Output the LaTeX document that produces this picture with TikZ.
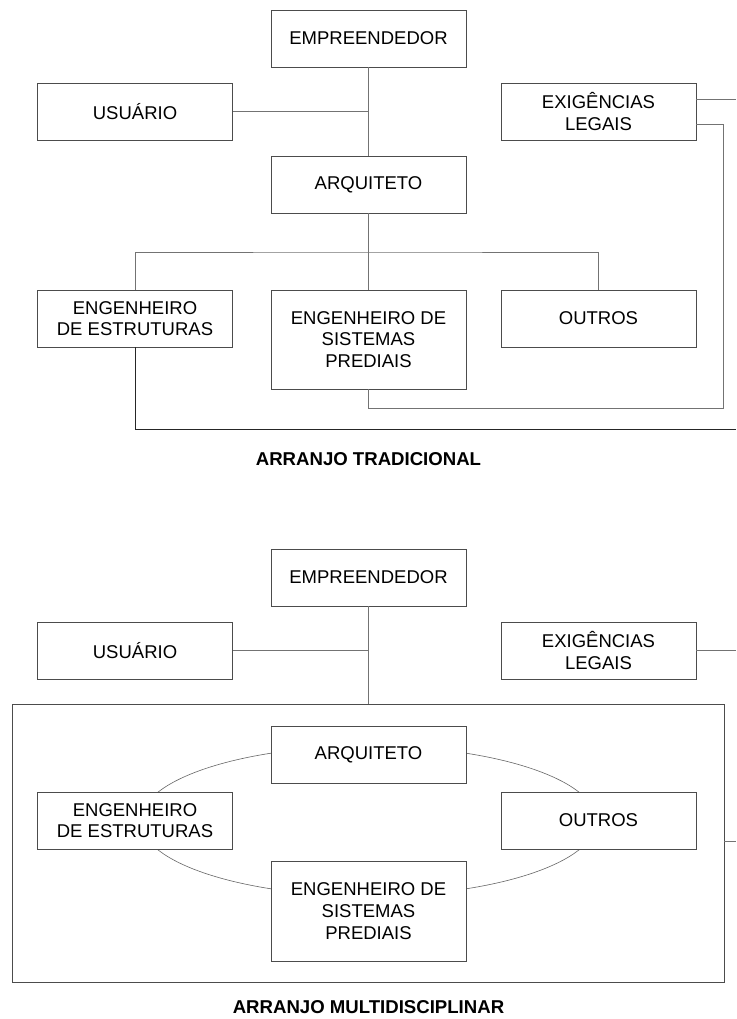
\documentclass[tikz,border=0pt]{standalone}
\usepackage{fontspec}
\setmainfont{Liberation Sans}
\tikzset{
  caixa/.style={draw=black!70, fill=white, line width=0.9pt, minimum width=195pt,
    minimum height=57pt, inner sep=0pt, align=center,
    font=\fontsize{18.5}{21.7}\selectfont},
  liga/.style={draw=black!55, line width=0.9pt},
  titulo/.style={font=\fontsize{18.6}{22}\selectfont\bfseries}
}
\begin{document}
\begin{tikzpicture}[x=1pt, y=-1pt]
    \useasboundingbox[fill=white] (0,0) rectangle (736,1019);

    % Arranjo tradicional
    \node[caixa] (emp) at (368.5,38.5) {EMPREENDEDOR};
    \node[caixa] (usu) at (135,111.5) {USUÁRIO};
    \node[caixa] (exig) at (598.5,111.5) {EXIGÊNCIAS\\LEGAIS};
    \node[caixa] (arq) at (368.5,184.5) {ARQUITETO};
    \node[caixa] (eest) at (135,318.5) {ENGENHEIRO\\DE ESTRUTURAS};
    \node[caixa, minimum height=99pt] (sist) at (368.5,339.5) {ENGENHEIRO DE\\SISTEMAS\\PREDIAIS};
    \node[caixa] (outr) at (598.5,318.5) {OUTROS};

    \coordinate (barra) at (368.5,252);
    \coordinate (volta) at (723,408);
    \coordinate (borda) at (736,429);

    \draw[liga] (emp) -- (arq);
    \draw[liga] (usu) -- (usu.east -| emp.south);
    \draw[liga] (arq) -- (barra) -- (sist);
    \draw[liga] (eest) |- (barra) -| (outr);
    \draw[liga] ([yshift=12.5pt]exig.east) -- ++(40,0);
    \draw[liga] (sist) |- (volta) |- ([yshift=-12.5pt]exig.east);
    \draw[draw=black!85, line width=0.9pt] (eest) |- (borda);

    \node[titulo] (tit1) at (368.5,459) {ARRANJO TRADICIONAL};

    % Arranjo multidisciplinar
    \node[draw=black!70, line width=0.9pt, minimum width=712pt, minimum height=278pt,
      inner sep=0pt] (quadro) at (368,843) {};
    \draw[draw=black!60, line width=0.6pt] (368.5,821) ellipse [x radius=228pt, y radius=75pt];

    \node[caixa] (emp2) at (368.5,577.5) {EMPREENDEDOR};
    \node[caixa] (usu2) at (135,650.5) {USUÁRIO};
    \node[caixa] (exig2) at (598.5,650.5) {EXIGÊNCIAS\\LEGAIS};
    \node[caixa] (arq2) at (368.5,754.5) {ARQUITETO};
    \node[caixa] (eest2) at (135,820.5) {ENGENHEIRO\\DE ESTRUTURAS};
    \node[caixa] (outr2) at (598.5,820.5) {OUTROS};
    \node[caixa, minimum height=100pt] (sist2) at (368.5,911) {ENGENHEIRO DE\\SISTEMAS\\PREDIAIS};

    \draw[liga] (emp2) -- (quadro.north -| emp2.south);
    \draw[liga] (usu2) -- (usu2.east -| emp2.south);
    \draw[liga] (exig2.east) -- ++(40,0);
    \draw[liga] ([yshift=2pt]quadro.east) -- ++(12,0);

    \node[titulo] (tit2) at (368.5,1007) {ARRANJO MULTIDISCIPLINAR};
\end{tikzpicture}
\end{document}
